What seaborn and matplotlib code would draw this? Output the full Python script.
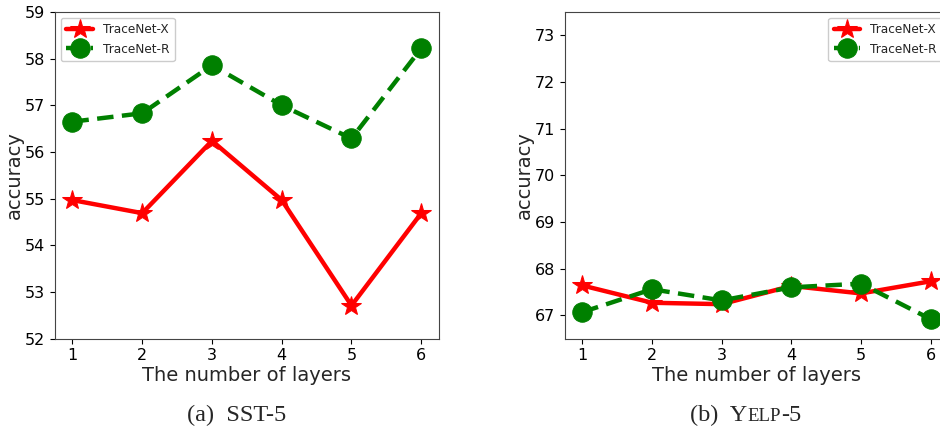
import pandas as pd
import numpy as np
import matplotlib
matplotlib.use("Agg")
import matplotlib.pyplot as plt
import seaborn as sns

# datos
capas = [1, 2, 3, 4, 5, 6]
sst_x = [54.97, 54.69, 56.24, 54.97, 52.71, 54.69]
sst_r = [56.65, 56.83, 57.86, 57.00, 56.29, 58.22]
yelp_x = [67.64, 67.27, 67.24, 67.63, 67.47, 67.73]
yelp_r = [67.07, 67.56, 67.32, 67.60, 67.68, 66.92]
yticks_sst = [52, 53, 54, 55, 56, 57, 58, 59]
yticks_yelp = [67, 68, 69, 70, 71, 72, 73]

sns.set_style("ticks")
plt.rcParams['font.family'] = ['DejaVu Sans']

W, H = 940, 430
fig = plt.figure(figsize=(W / 100, H / 100), dpi=100)


def caja(x0, x1, y0, y1):
    return [x0 / W, 1 - y1 / H, (x1 - x0) / W, (y1 - y0) / H]


ax1 = fig.add_axes(caja(55, 438.7, 12, 338.7))
ax2 = fig.add_axes(caja(565, 948, 12, 338.7))


def dibujar(ax, y_x, y_r, ylim, yticks, loc):
    df = pd.DataFrame({'capas': capas, 'x': y_x, 'r': y_r})
    sns.lineplot(data=df, x='capas', y='x', ax=ax, color='red', lw=3.2,
                 marker='*', markersize=15, markeredgecolor='red',
                 label='TraceNet-X')
    sns.lineplot(data=df, x='capas', y='r', ax=ax, color='green', lw=3.2,
                 linestyle=(0, (3.7, 1.9)), marker='o', markersize=14,
                 markeredgecolor='green', label='TraceNet-R')
    ax.set_xlim(0.75, 6.25)
    ax.set_ylim(*ylim)
    ax.set_xticks(capas)
    ax.set_yticks(yticks)
    ax.tick_params(labelsize=11.5, colors='black')
    for s in ax.spines.values():
        s.set_visible(True)
        s.set_color('#444444')
    ax.set_xlabel('The number of layers', fontsize=14, labelpad=2)
    ax.set_ylabel('accuracy', fontsize=14, labelpad=1)
    ax.legend(loc=loc, fontsize=8.7, handlelength=2.2, borderpad=0.45,
              labelspacing=0.5, framealpha=1)


dibujar(ax1, sst_x, sst_r, (52, 59), yticks_sst, 'upper left')
dibujar(ax2, yelp_x, yelp_r, (66.5, 73.5), yticks_yelp, 'upper right')

# subtitulos en serif
serif = ['Liberation Serif', 'DejaVu Serif']
fig.text(237 / W, 1 - 421 / H, '(a)  SST-5', family=serif, fontsize=17.5,
         ha='center', va='baseline')

fig.canvas.draw()
r = fig.canvas.get_renderer()
partes = [('(b)  Y', 17.5), ('ELP', 13.5), ('-5', 17.5)]
textos = []
for s, fs in partes:
    t = fig.text(0, 1 - 421 / H, s, family=serif, fontsize=fs,
                 ha='left', va='baseline')
    textos.append(t)
anchos = [t.get_window_extent(r).width for t in textos]
x = 746 - sum(anchos) / 2
for t, a in zip(textos, anchos):
    t.set_x(x / W)
    x += a

fig.savefig('out.png', dpi=100)
